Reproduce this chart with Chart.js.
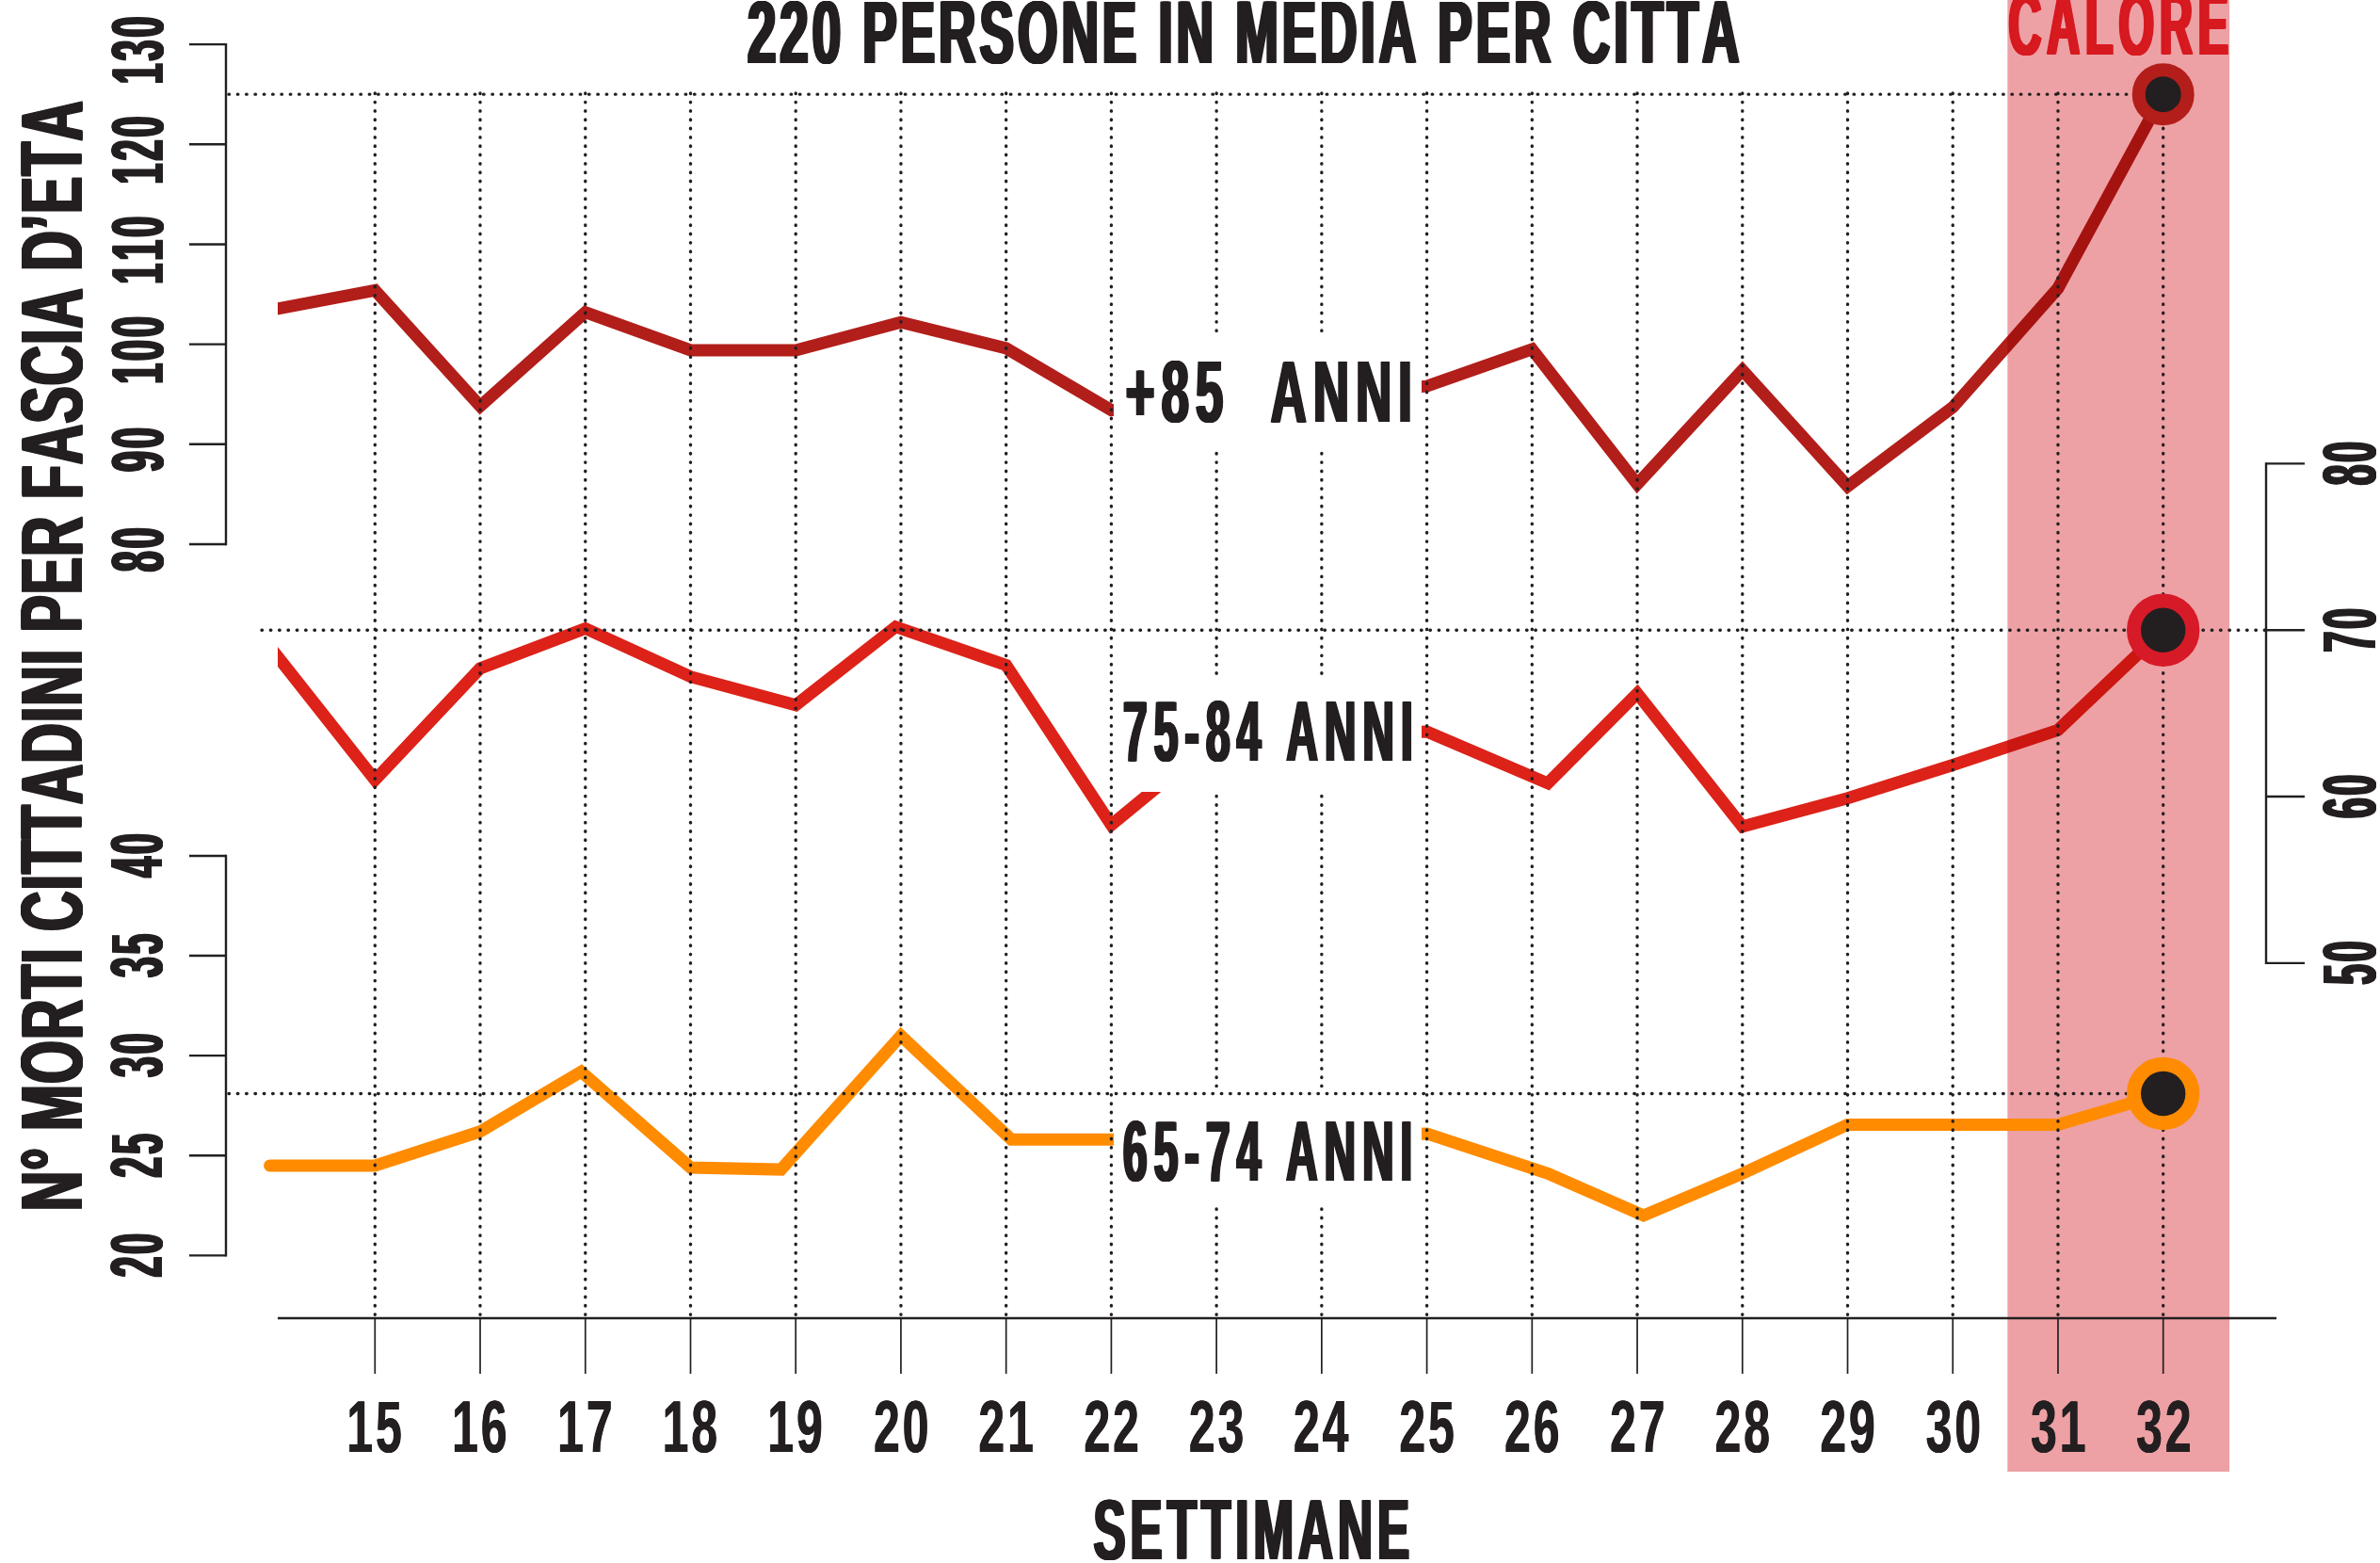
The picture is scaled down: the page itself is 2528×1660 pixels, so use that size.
<!DOCTYPE html>
<html>
<head>
<meta charset="utf-8">
<script src="https://cdn.jsdelivr.net/npm/chart.js@4.4.1/dist/chart.umd.min.js"></script>
<style>
  html, body { margin: 0; padding: 0; background: #ffffff; overflow: hidden; }
  canvas { display: block; }
</style>
</head>
<body>
<canvas id="c" width="2528" height="1660"></canvas>
<script>
// ---------------- DATA ----------------
const weeks   = [14, 15, 16, 17, 18, 19, 20, 21, 22, 23, 24, 25, 26, 27, 28, 29, 30, 31, 32];
const xTicks  = [15, 16, 17, 18, 19, 20, 21, 22, 23, 24, 25, 26, 27, 28, 29, 30, 31, 32];

// +85 anni (left upper axis)
const over85  = [103.4, 105.4, 93.8, 103.2, 99.4, 99.4, 102.2, 99.6, 93.4, null, null, 95.8, 99.5, 86.0, 97.4, 85.8, 93.7, 105.6, 125.0];

// 75-84 anni (right axis)
const x7584   = [14, 15, 16, 17, 18, 19, 19.95, 21, 22, 23, 24, 25, 26.15, 27, 28, 29, 30, 31, 32];
const age7584 = [69.0, 61.0, 67.7, 70.1, 67.2, 65.5, 70.2, 67.9, 58.3, 63.5, null, 63.9, 60.8, 66.2, 58.2, 59.9, 61.9, 64.0, 70.0];

// 65-74 anni (left lower axis)
const x6574   = [14, 15, 16, 16.96, 18, 18.86, 20, 21.05, 22, 23, 24, 25, 26.15, 27.06, 28, 29, 30, 31, 32];
const age6574 = [24.5, 24.5, 26.2, 29.2, 24.4, 24.3, 31.0, 25.8, 25.8, null, null, 26.1, 24.1, 22.0, 24.1, 26.55, 26.55, 26.55, 28.1];

const ticks85   = [80, 90, 100, 110, 120, 130];
const ticks7584 = [50, 60, 70, 80];
const ticks6574 = [20, 25, 30, 35, 40];

const heatWeeks = [30.52, 32.63];   // "CALORE" highlighted span

const seriesLabels = ['+85  ANNI', '75-84 ANNI', '65-74 ANNI'];
const titleText = '220 PERSONE IN MEDIA PER CITTA';
const xTitleText = 'SETTIMANE';
const yTitleText = 'N° MORTI CITTADINI PER FASCIA D’ETA';
const heatText = 'CALORE';

// ---------------- STYLE / LAYOUT ----------------
const COL = {
  ink: '#231f20', l85: '#b21e1a', ring85: '#b31e1a', l75: '#dc2219', ring75: '#d71a28',
  l65: '#ff8b00', band: '#eda1a5', heat: '#d71920'
};
const FONT = "'Liberation Sans Narrow','Liberation Sans','DejaVu Sans Condensed',sans-serif";
const LAY = {
  pad: { left: 295, right: 110, top: 99, bottom: 260 },
  leftAxisX: 240, leftTickX: 201, rightAxisX: 2407, rightTickX: 2448,
  xTickBottom: 1459, xLabelBase: 1542, bandBottom: 1563,
  refStart85: 243, refStart75: 278, refStart65: 243,
  boxX: [1183, 1510],
  boxes: [[355, 475], [720, 841], [1155, 1282]],
  labels: [
    { x: 1196, w: 302, base: 448, cap: 65 },
    { x: 1193, w: 306, base: 808, cap: 63 },
    { x: 1193, w: 306, base: 1254, cap: 64 }
  ]
};

// ---------------- HELPERS ----------------
function layoutChars(ctx, text, trackLocal) {
  let pos = 0;
  const items = [];
  Array.from(text).forEach(ch => {
    const mm = ctx.measureText(ch);
    items.push({ ch, pos, l: mm.actualBoundingBoxLeft, r: mm.actualBoundingBoxRight });
    pos += mm.width + trackLocal;
  });
  const first = items[0], last = items[items.length - 1];
  const inkStart = first.pos - first.l;
  const inkEnd = last.pos + last.r;
  return { items, inkStart, inkW: inkEnd - inkStart };
}

// o.track = extra spacing between glyphs in screen px; glyphs are compressed to fit o.width
function drawText(ctx, text, o) {
  const fam = o.family || FONT;
  const wt = o.weight || 'bold';
  const n = Array.from(text).length;
  ctx.save();
  ctx.font = `${wt} 100px ${fam}`;
  const m0 = ctx.measureText(o.capRef || text);
  const size = 100 * o.cap / m0.actualBoundingBoxAscent;
  ctx.font = `${wt} ${size}px ${fam}`;
  const bold = o.bold || 0;
  const track = o.track || 0;
  let sx;
  if (o.ref) {
    const lr = layoutChars(ctx, o.ref[0], 0);
    const nr = Array.from(o.ref[0]).length;
    sx = (o.ref[1] - bold - (nr - 1) * track) / lr.inkW;
  } else {
    const l0 = layoutChars(ctx, text, 0);
    sx = (o.width - bold - (n - 1) * track) / l0.inkW;
  }
  const lay = layoutChars(ctx, text, track / sx);
  const total = lay.inkW * sx + bold;
  let start = 0;
  if (o.align === 'center') start = -total / 2;
  else if (o.align === 'right') start = -total;
  ctx.translate(o.x, o.y);
  if (o.rot) ctx.rotate(o.rot);
  ctx.translate(start, 0);
  ctx.scale(sx, 1);
  ctx.fillStyle = o.color || COL.ink;
  ctx.textAlign = 'left';
  ctx.textBaseline = 'alphabetic';
  const steps = bold > 0 ? Math.max(2, Math.ceil(bold * 1.5)) : 0;
  lay.items.forEach(it => {
    const bx = it.pos - lay.inkStart;
    if (steps === 0) {
      ctx.fillText(it.ch, bx, 0);
    } else {
      for (let k = 0; k <= steps; k++) ctx.fillText(it.ch, bx + (bold * k / steps) / sx, 0);
    }
  });
  ctx.restore();
}

function dotted(ctx, x1, y1, x2, y2) {
  ctx.save();
  ctx.strokeStyle = COL.ink;
  ctx.lineWidth = 3.4;
  ctx.lineCap = 'round';
  ctx.setLineDash([0.5, 8.83]);
  ctx.beginPath();
  ctx.moveTo(x1, y1);
  ctx.lineTo(x2, y2);
  ctx.stroke();
  ctx.restore();
}

function solid(ctx, x1, y1, x2, y2, w) {
  ctx.save();
  ctx.strokeStyle = COL.ink;
  ctx.lineWidth = w;
  ctx.lineCap = 'butt';
  ctx.beginPath();
  ctx.moveTo(x1, y1);
  ctx.lineTo(x2, y2);
  ctx.stroke();
  ctx.restore();
}

function drawOverlay(chart) {
  const { ctx, chartArea: ca, scales } = chart;
  const xs = scales.x, s85 = scales.y85, s75 = scales.y7584, s65 = scales.y6574;

  // vertical dotted grid
  xTicks.forEach(w => {
    const px = xs.getPixelForValue(w);
    dotted(ctx, px, ca.top, px, ca.bottom);
  });

  // white label boxes
  ctx.save();
  ctx.fillStyle = '#ffffff';
  LAY.boxes.forEach(b => ctx.fillRect(LAY.boxX[0], b[0], LAY.boxX[1] - LAY.boxX[0], b[1] - b[0]));
  ctx.restore();

  // horizontal reference lines at the last (week 32) values
  const lastX = xs.getPixelForValue(weeks[weeks.length - 1]);
  const y85last = s85.getPixelForValue(over85[over85.length - 1]);
  const y75last = s75.getPixelForValue(age7584[age7584.length - 1]);
  const y65last = s65.getPixelForValue(age6574[age6574.length - 1]);
  dotted(ctx, LAY.refStart85, y85last, lastX, y85last);
  dotted(ctx, LAY.refStart75, y75last, LAY.rightAxisX, y75last);
  dotted(ctx, LAY.refStart65, y65last, lastX, y65last);

  // x axis
  solid(ctx, ca.left, ca.bottom, ca.right, ca.bottom, 2.6);
  xTicks.forEach(w => {
    const px = xs.getPixelForValue(w);
    solid(ctx, px, ca.bottom, px, LAY.xTickBottom, 1.7);
    drawText(ctx, String(w), { x: px, y: LAY.xLabelBase, cap: 54, capRef: '0', ref: ['22', 56], track: 3, align: 'center', bold: 0.8 });
  });

  // left upper axis (+85)
  solid(ctx, LAY.leftAxisX, s85.getPixelForValue(ticks85[ticks85.length - 1]) - 1.2, LAY.leftAxisX, s85.getPixelForValue(ticks85[0]) + 1.2, 2.4);
  ticks85.forEach(v => {
    const py = s85.getPixelForValue(v);
    solid(ctx, LAY.leftTickX, py, LAY.leftAxisX, py, 2.4);
    drawText(ctx, String(v), { x: 172.5, y: py + 6, rot: -Math.PI / 2, cap: 55, capRef: '0', ref: ['120', 71], track: 3, align: 'center', bold: 2.5 });
  });

  // left lower axis (65-74)
  solid(ctx, LAY.leftAxisX, s65.getPixelForValue(ticks6574[ticks6574.length - 1]) - 1.2, LAY.leftAxisX, s65.getPixelForValue(ticks6574[0]) + 1.2, 2.4);
  ticks6574.forEach(v => {
    const py = s65.getPixelForValue(v);
    solid(ctx, LAY.leftTickX, py, LAY.leftAxisX, py, 2.4);
    drawText(ctx, String(v), { x: 172, y: py, rot: -Math.PI / 2, cap: 55, capRef: '0', ref: ['40', 47], track: 3, align: 'center', bold: 2.5 });
  });

  // right axis (75-84)
  solid(ctx, LAY.rightAxisX, s75.getPixelForValue(ticks7584[ticks7584.length - 1]) - 1.2, LAY.rightAxisX, s75.getPixelForValue(ticks7584[0]) + 1.2, 2.4);
  ticks7584.forEach(v => {
    const py = s75.getPixelForValue(v);
    solid(ctx, LAY.rightAxisX, py, LAY.rightTickX, py, 2.4);
    drawText(ctx, String(v), { x: 2523, y: py, rot: -Math.PI / 2, cap: 56, capRef: '0', ref: ['70', 46], track: 3, align: 'center', bold: 2.5 });
  });

  // series labels
  seriesLabels.forEach((t, i) => {
    const l = LAY.labels[i];
    drawText(ctx, t, { x: l.x, y: l.base, cap: l.cap, capRef: 'A', width: l.w, track: 7, align: 'left', bold: 2.8 });
  });

  // titles
  drawText(ctx, titleText, { x: 794, y: 67, cap: 65, capRef: 'P', width: 1054, track: 4, align: 'left', bold: 3.5 });
  drawText(ctx, xTitleText, { x: 1161, y: 1656, cap: 64, capRef: 'T', width: 336, track: 5, align: 'left', bold: 3 });
  drawText(ctx, yTitleText, { x: 87, y: 1284, rot: -Math.PI / 2, cap: 65, capRef: 'M', width: 1177, track: 1, align: 'left', bold: 3 });

  // CALORE
  const bx0 = xs.getPixelForValue(heatWeeks[0]), bx1 = xs.getPixelForValue(heatWeeks[1]);
  drawText(ctx, heatText, { x: (bx0 + bx1) / 2, y: 58, cap: 65, capRef: 'L', width: 234, track: 6, align: 'center', bold: 3.5, color: COL.heat });
}

// ---------------- PLUGIN ----------------
let linesDrawn = 0;
const overlayPlugin = {
  id: 'overlay',
  beforeDraw() { linesDrawn = 0; },
  beforeDatasetsDraw(chart) {
    const xs = chart.scales.x;
    const x0 = xs.getPixelForValue(heatWeeks[0]);
    const x1 = xs.getPixelForValue(heatWeeks[1]);
    const ctx = chart.ctx;
    ctx.save();
    ctx.fillStyle = COL.band;
    ctx.fillRect(x0, 0, x1 - x0, LAY.bandBottom);
    ctx.restore();
  },
  beforeDatasetDraw(chart, args) {
    const ds = chart.data.datasets[args.index];
    if (ds.blend) { chart.ctx.save(); chart.ctx.globalCompositeOperation = ds.blend; }
  },
  afterDatasetDraw(chart, args) {
    const ds = chart.data.datasets[args.index];
    if (ds.blend) chart.ctx.restore();
    if (ds.isSeriesLine) {
      linesDrawn++;
      const total = chart.data.datasets.filter(d => d.isSeriesLine).length;
      if (linesDrawn === total) drawOverlay(chart);
    }
  }
};

// ---------------- CHART ----------------
const lineBase = {
  borderWidth: 13, borderJoinStyle: 'miter', pointRadius: 0, pointHoverRadius: 0,
  tension: 0, spanGaps: true, fill: false, order: 1, isSeriesLine: true
};
const markerBase = {
  showLine: false, pointRadius: 31.2, pointBorderWidth: 15, pointHoverRadius: 31.2,
  pointBackgroundColor: COL.ink, order: 0, clip: false
};

new Chart(document.getElementById('c'), {
  type: 'line',
  data: {
    datasets: [
      Object.assign({}, markerBase, {
        label: '+85 marker', yAxisID: 'y85',
        data: [{ x: weeks[weeks.length - 1], y: over85[over85.length - 1] }],
        pointRadius: 26, pointHoverRadius: 26, pointBorderWidth: 14, pointBorderColor: COL.ring85
      }),
      Object.assign({}, markerBase, {
        label: '75-84 marker', yAxisID: 'y7584',
        data: [{ x: x7584[x7584.length - 1], y: age7584[age7584.length - 1] }],
        pointBorderColor: COL.ring75
      }),
      Object.assign({}, markerBase, {
        label: '65-74 marker', yAxisID: 'y6574',
        data: [{ x: x6574[x6574.length - 1], y: age6574[age6574.length - 1] }],
        pointBorderColor: COL.l65
      }),
      Object.assign({}, lineBase, {
        label: seriesLabels[0], yAxisID: 'y85',
        data: weeks.map((w, i) => ({ x: w, y: over85[i] })),
        borderColor: COL.l85, borderCapStyle: 'butt', blend: 'multiply',
        clip: { left: 0, top: false, right: false, bottom: false }
      }),
      Object.assign({}, lineBase, {
        label: seriesLabels[1], yAxisID: 'y7584',
        data: x7584.map((w, i) => ({ x: w, y: age7584[i] })),
        borderColor: COL.l75, borderCapStyle: 'butt', blend: 'multiply',
        clip: { left: 0, top: false, right: false, bottom: false }
      }),
      Object.assign({}, lineBase, {
        label: seriesLabels[2], yAxisID: 'y6574',
        data: x6574.map((w, i) => ({ x: w, y: age6574[i] })),
        borderColor: COL.l65, borderCapStyle: 'round',
        clip: false
      })
    ]
  },
  options: {
    responsive: false,
    animation: false,
    events: [],
    layout: { padding: LAY.pad },
    plugins: { legend: { display: false }, tooltip: { enabled: false }, title: { display: false } },
    scales: {
      x: { type: 'linear', display: false, min: 14.0755, max: 33.0767,
           afterBuildTicks: s => { s.ticks = xTicks.map(v => ({ value: v })); } },
      y85: { type: 'linear', display: false, min: 2.58, max: 125.11,
             afterBuildTicks: s => { s.ticks = ticks85.map(v => ({ value: v })); } },
      y7584: { type: 'linear', display: false, min: 28.67, max: 102.25,
               afterBuildTicks: s => { s.ticks = ticks7584.map(v => ({ value: v })); } },
      y6574: { type: 'linear', display: false, min: 16.86, max: 78.17,
               afterBuildTicks: s => { s.ticks = ticks6574.map(v => ({ value: v })); } }
    }
  },
  plugins: [overlayPlugin]
});
</script>
</body>
</html>
